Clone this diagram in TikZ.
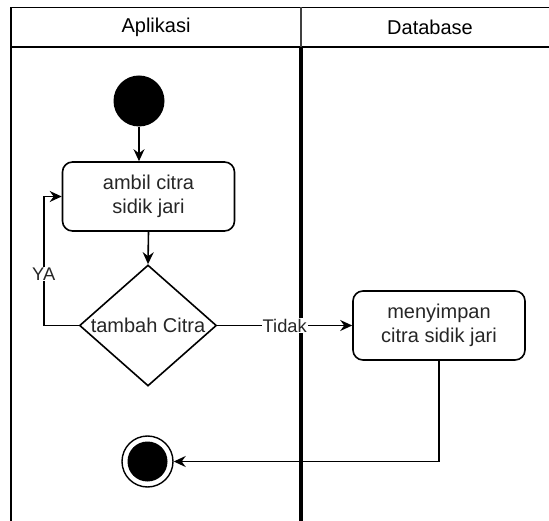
\documentclass[tikz,border=0pt]{standalone}
\usepackage{fontspec}
\setmainfont{Liberation Sans}
\usetikzlibrary{shapes.geometric,arrows.meta}
\begin{document}
\begin{tikzpicture}[x=1pt,y=-1pt,
  txt/.style={text=black!85,font=\fontsize{20}{24}\selectfont},
  lbl/.style={text=black!85,font=\fontsize{18.3}{22}\selectfont,fill=white,inner sep=1pt},
  activity/.style={draw,line width=1.6pt,rounded corners=10pt,minimum width=172pt,
    minimum height=69pt,align=center,inner sep=0pt,txt},
  decision/.style={draw,diamond,line width=1.6pt,minimum width=137pt,
    minimum height=121pt,inner sep=0pt},
  flow/.style={line width=1.6pt,-{Stealth[length=12pt,width=11pt,inset=4pt]}},
  lane/.style={line width=1.8pt}]
\useasboundingbox (0,0) rectangle (549,521);

% swimlane frame and headers
\draw[lane] (11,521) -- (11,7.5) -- (560,7.5);
\draw[lane] (11,47) -- (560,47);
\draw[line width=1.6pt,black!75] (301,7.5) -- (301,47);
\draw[line width=3.3pt] (301,47) -- (301,521);
\node[txt,text=black] (laneA) at (156,27.5) {Aplikasi};
\node[txt,text=black] (laneB) at (430,27.5) {Database};

% activity nodes
\node[circle,fill=black,minimum size=51pt,inner sep=0pt] (start) at (139,101) {};
\node[activity] (ambil) at (148.5,196.5) {ambil citra\\sidik jari};
\node[decision,label={[txt]center:tambah Citra}] (cek) at (148,325.5) {};
\node[activity] (simpan) at (439,325.5) {menyimpan\\citra sidik jari};
\node[circle,draw,line width=1.4pt,minimum size=51pt,inner sep=0pt] (final) at (147.5,461.5) {};
\fill (final.center) circle (20pt);

% control flow
\draw[flow] (start.south) -- (start.south |- ambil.north);
\draw[flow] (ambil.south) -- (cek.north);
\draw[flow] (cek.west) -- ++(-35,0) |- (ambil.west) node[lbl,pos=0.2] {YA};
\draw[flow] (cek.east) -- (simpan.west) node[lbl,midway] {Tidak};
\draw[flow] (simpan.south) |- (final.east);
\end{tikzpicture}
\end{document}
